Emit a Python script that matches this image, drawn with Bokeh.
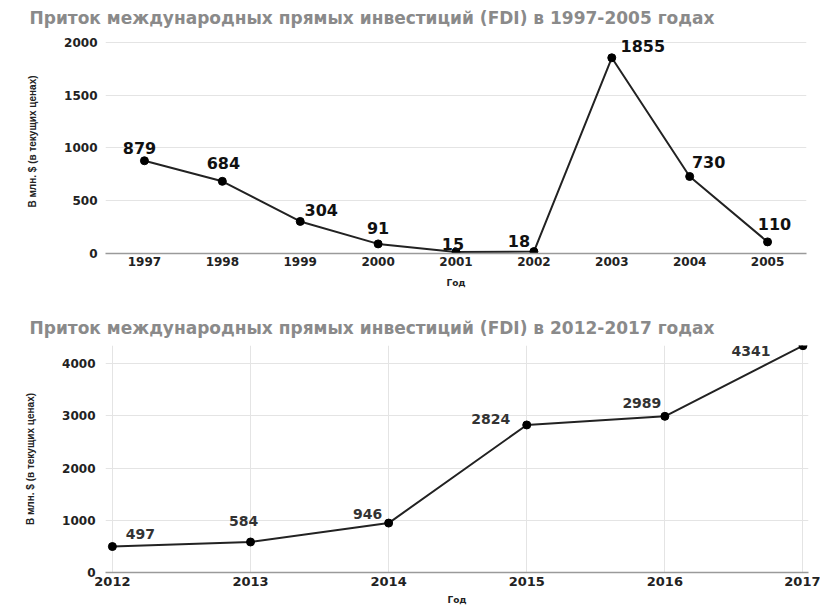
from bokeh.plotting import figure
from bokeh.layouts import column
from bokeh.models import ColumnDataSource, Range1d, FixedTicker
from bokeh.core.properties import value
from bokeh.embed import file_html
from bokeh.resources import INLINE

# FDI inflows, million USD (current prices)
years_a = ["1997", "1998", "1999", "2000", "2001", "2002", "2003", "2004", "2005"]
fdi_a = [879, 684, 304, 91, 15, 18, 1855, 730, 110]

years_b = [2012, 2013, 2014, 2015, 2016, 2017]
fdi_b = [497, 584, 946, 2824, 2989, 4341]

title_a = "Приток международных прямых инвестиций (FDI) в 1997-2005 годах"
title_b = "Приток международных прямых инвестиций (FDI) в 2012-2017 годах"
y_title = "В млн. $ (в текущих ценах)"
x_title = "Год"

# pixel offsets of the value labels relative to their points
lbl_dx_a = [-5, 1, 21, 0, -3, -15, 31, 19, 7]
lbl_dy_a = [-13, -18, -11, -16, -8, -11, -12, -14, -18]
lbl_dx_b = [28, -7, -21, -36, -23, -52]
lbl_dy_b = [-13, -21, -9, -6, -13, 5]

FONT = "DejaVu Sans"
AXIS_TITLE_FONT = "Liberation Sans"


def style(p, tick_size, x_tick_size):
    p.title.text_font = FONT
    p.title.text_font_style = "bold"
    p.title.text_font_size = "17px"
    p.title.text_color = "#8a8a8a"
    p.title.align = "left"
    p.title.offset = -76
    p.outline_line_color = None
    p.background_fill_color = "white"
    p.border_fill_color = "white"
    for ax in (p.xaxis[0], p.yaxis[0]):
        ax.major_tick_line_color = None
        ax.minor_tick_line_color = None
        ax.axis_label_text_font_style = "bold"
        ax.axis_label_text_color = "#222222"
        ax.major_label_text_font = FONT
        ax.major_label_text_font_style = "bold"
        ax.major_label_text_color = "#222222"
    p.yaxis.major_label_text_font_size = tick_size
    p.xaxis.major_label_text_font_size = x_tick_size
    p.yaxis.axis_label_text_font = AXIS_TITLE_FONT
    p.yaxis.axis_label_text_font_size = "10px"
    p.xaxis.axis_label_text_font = FONT
    p.xaxis.axis_label_text_font_size = "9px"
    p.yaxis.axis_line_color = None
    p.xaxis.axis_line_color = "#9a9a9a"
    p.xaxis.axis_line_width = 1.5
    p.ygrid.grid_line_color = "#e4e4e4"
    p.ygrid.grid_line_width = 1


# --- 1997-2005 ---
# a little headroom above 2000 keeps the top value label unclipped
src_a = ColumnDataSource(dict(x=years_a, y=fdi_a, t=[str(v) for v in fdi_a],
                              dx=lbl_dx_a, dy=lbl_dy_a))
p1 = figure(width=820, height=300, x_range=years_a, y_range=Range1d(0, 2123.2),
            output_backend="svg", toolbar_location=None, title=title_a,
            min_border_left=103, min_border_right=16, min_border_top=29,
            min_border_bottom=47)
p1.frame_width = 701
p1.frame_height = 224
style(p1, "12px", "12px")
p1.title.standoff = 3
p1.xgrid.grid_line_color = None
p1.yaxis.ticker = FixedTicker(ticks=[0, 500, 1000, 1500, 2000])
p1.yaxis.axis_label = y_title
p1.xaxis.axis_label = x_title
p1.yaxis.major_label_standoff = 2
p1.yaxis.axis_label_standoff = 23
p1.xaxis.major_label_standoff = -3
p1.xaxis.axis_label_standoff = 9
p1.line("x", "y", source=src_a, line_color="#222222", line_width=2)
p1.scatter("x", "y", source=src_a, size=8, color="black")
p1.text("x", "y", text="t", source=src_a, x_offset="dx", y_offset="dy",
        text_align="center", text_baseline="middle",
        text_font=value(FONT), text_font_style="bold",
        text_font_size="16px", text_color="#111111")

# --- 2012-2017 ---
src_b = ColumnDataSource(dict(x=years_b, y=fdi_b, t=[str(v) for v in fdi_b],
                              dx=lbl_dx_b, dy=lbl_dy_b))
p2 = figure(width=820, height=307, x_range=Range1d(2011.95, 2017.04),
            y_range=Range1d(0, 4345),
            output_backend="svg", toolbar_location=None, title=title_b,
            min_border_left=105, min_border_right=12, min_border_top=45,
            min_border_bottom=35)
p2.frame_width = 703
p2.frame_height = 227
style(p2, "12px", "13px")
p2.title.standoff = 16
p2.xgrid.grid_line_color = "#e4e4e4"
p2.xaxis.ticker = FixedTicker(ticks=years_b)
p2.yaxis.ticker = FixedTicker(ticks=[0, 1000, 2000, 3000, 4000])
p2.yaxis.axis_label = y_title
p2.xaxis.axis_label = x_title
p2.yaxis.major_label_standoff = 4
p2.yaxis.axis_label_standoff = 23
p2.xaxis.major_label_standoff = -2
p2.xaxis.axis_label_standoff = 6
p2.line("x", "y", source=src_b, line_color="#222222", line_width=2)
p2.scatter("x", "y", source=src_b, size=8, color="black")
p2.text("x", "y", text="t", source=src_b, x_offset="dx", y_offset="dy",
        text_align="center", text_baseline="middle",
        text_font=value(FONT), text_font_style="bold",
        text_font_size="14px", text_color="#333333")

layout = column(p1, p2, spacing=0)
open("out.html", "w").write(file_html(layout, INLINE))
